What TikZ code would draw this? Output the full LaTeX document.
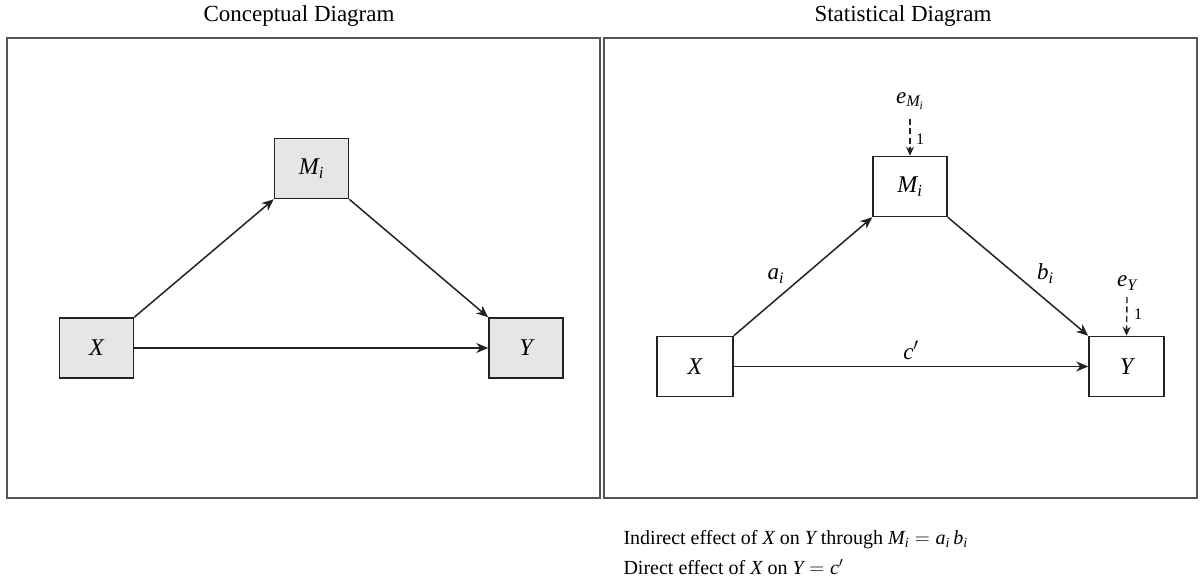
\documentclass[tikz,border=0pt]{standalone}
\usepackage{fontspec}
\setmainfont{Liberation Serif}
\usetikzlibrary{arrows.meta}
\newcommand{\vi}[1]{\ensuremath{\mathit{#1}}}
\definecolor{boxgray}{HTML}{E6E6E6}
\definecolor{framegray}{HTML}{555555}
\definecolor{linegray}{HTML}{222222}
\begin{document}
\begin{tikzpicture}[x=1pt,y=-1pt,
  frame/.style={draw=framegray,line width=1.5pt},
  varbox/.style={draw=linegray,line width=1.5pt,minimum width=74pt,minimum height=60pt,inner sep=0pt,font=\fontsize{24}{28}\selectfont},
  cbox/.style={varbox,fill=boxgray},
  sbox/.style={varbox,fill=white},
  path/.style={draw=linegray,line width=1.5pt,-{Stealth[length=12pt,width=10pt]}},
  errarr/.style={draw=linegray,line width=1.4pt,dash pattern=on 6pt off 3.5pt,-{Stealth[length=9pt,width=8pt]}},
  title/.style={font=\fontsize{23}{27}\selectfont},
  lab/.style={font=\fontsize{23}{27}\selectfont},
  txt/.style={font=\fontsize{20}{24}\selectfont},
  one/.style={font=\fontsize{16}{19}\selectfont}]
\useasboundingbox (0,0) rectangle (1201,580);
% frames
\draw[frame] (7,38) rectangle (600,498);
\draw[frame] (604,38) rectangle (1197,498);
\node[title] (t1) at (299,16) {Conceptual Diagram};
\node[title] (t2) at (903,16) {Statistical Diagram};
% conceptual
\node[cbox] (cM) at (311.5,168.5) {\vi{M}$_{\vi{i}}$};
\node[cbox] (cX) at (96.5,348) {\vi{X}};
\node[cbox] (cY) at (526,348) {\vi{Y}};
\draw[path] (cX.north east) -- (cM.south west);
\draw[path] (cM.south east) -- (cY.north west);
\draw[path] (cX.east) -- (cY.west);
% statistical
\node[sbox] (sM) at (910,186.5) {\vi{M}$_{\vi{i}}$};
\node[sbox,minimum width=76pt] (sX) at (695,366.5) {\vi{X}};
\node[sbox,minimum width=75pt] (sY) at (1126.5,366.5) {\vi{Y}};
\draw[path] (sX.north east) -- node[lab,pos=0.4,above left=1pt] (la) {\vi{a}$_{\vi{i}}$} (sM.south west);
\draw[path] (sM.south east) -- node[lab,pos=0.6,above right=1pt] (lb) {\vi{b}$_{\vi{i}}$} (sY.north west);
\draw[path] (sX.east) -- node[lab,above=3pt] (lc) {$\vi{c}'$} (sY.west);
\node[lab] (eM) at (910,101) {$\vi{e}_{\vi{M}_{\vi{i}}}$};
\coordinate (eMs) at (910,119);
\draw[errarr] (eMs) -- (sM.north);
\node[one] (oM) at (920,139) {1};
\node[lab] (eY) at (1127,283) {$\vi{e}_{\vi{Y}}$};
\coordinate (eYs) at (1127,297);
\draw[errarr] (eYs) -- (sY.north);
\node[one] (oY) at (1138,314) {1};
% bottom text
\node[txt,anchor=west] (ind) at (620,540) {Indirect effect of \vi{X} on \vi{Y} through $\vi{M}_{\vi{i}} = \vi{a}_{\vi{i}}\,\vi{b}_{\vi{i}}$};
\node[txt,anchor=west] (dir) at (620,567) {Direct effect of \vi{X} on $\vi{Y} = \vi{c}'$};
\end{tikzpicture}
\end{document}
